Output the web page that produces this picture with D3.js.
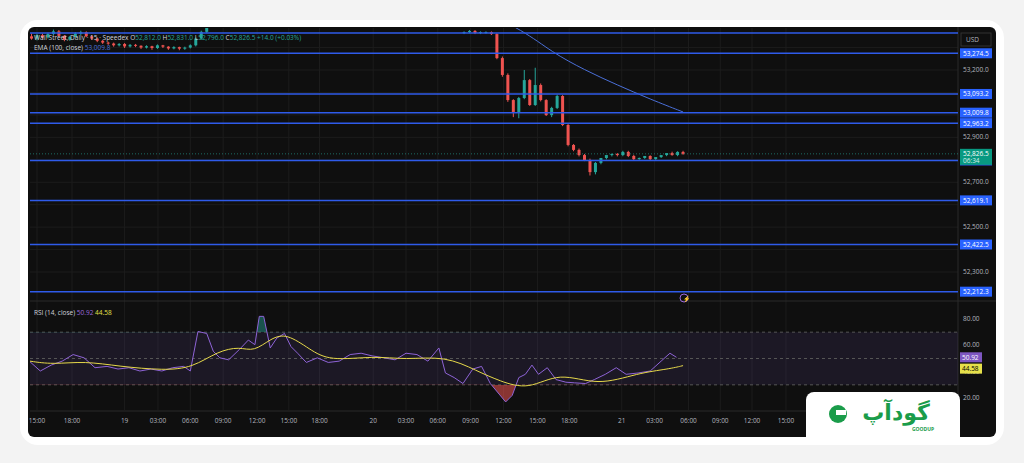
<!DOCTYPE html>
<html><head><meta charset="utf-8">
<script src="https://cdn.jsdelivr.net/npm/d3@7"></script>
<style>body{margin:0;background:#f3f3f3;font-family:"Open Sans",sans-serif}</style>
</head><body><svg id="c" width="1024" height="463"></svg>
<script>
// time unit = trading hours from 15:00 (day 18) on the chart axis
const tickLabels = ['15:00','18:00','19','03:00','06:00','09:00','12:00','15:00','18:00','20','03:00','06:00','09:00','12:00','15:00','18:00','21','03:00','06:00','09:00','12:00','15:00'];
const tickPos = [0,3.2,8,11.05,14,17,20.1,23,25.8,30.7,33.7,36.6,39.6,42.6,45.7,48.6,53.4,56.4,59.5,62.4,65.3,68.4];

const levels = [53365, 53274.5, 53093.2, 53009.8, 52963.2, 52797.0, 52619.1, 52422.5, 52212.3];
const levelLabels = ['53,274.5','53,093.2','53,009.8','52,963.2','52,797.0','52,619.1','52,422.5','52,212.3'];
const priceTicks = [53200, 52900, 52700, 52500, 52300];

const candleT = [-0.5,0,0.5,1,1.5,2,2.5,3,3.5,4,4.5,5,5.5,6,6.5,7,7.5,8,8.5,9,9.5,10,10.5,11,11.5,12,12.5,13,13.5,14,14.5,15,15.5,16,
  39,39.5,40,40.5,41,41.5,42,42.5,43,43.5,44,44.5,45,45.5,46,46.5,47,47.5,48,48.5,49,49.5,50,50.5,51,51.5,52,52.5,53,53.5,54,54.5,55,55.5,56,56.5,57,57.5,58,58.5,59];
const opens = [53350,53340,53355,53345,53360,53372,53352,53335,53348,53362,53368,53350,53340,53330,53322,53318,53310,53316,53305,53312,53308,53300,53306,53298,53310,53304,53296,53302,53295,53300,53310,53340,53370,53395,
  53365,53369,53374,53365,53369,53369,53360,53253,53178,53066,53013,53075,53155,53044,53133,53066,52999,53031,53084,52955,52866,52844,52821,52799,52745,52786,52808,52821,52826,52821,52835,52817,52803,52808,52817,52803,52812,52821,52830,52821,52835];
const closes = [53340,53355,53345,53360,53372,53352,53335,53348,53362,53368,53350,53340,53330,53322,53318,53310,53316,53305,53312,53308,53300,53306,53298,53310,53304,53296,53302,53295,53300,53310,53340,53370,53395,53410,
  53369,53374,53365,53369,53369,53360,53253,53178,53066,53013,53075,53155,53044,53133,53066,52999,53031,53084,52955,52866,52844,52821,52799,52745,52786,52808,52821,52826,52821,52835,52817,52803,52808,52817,52803,52812,52821,52830,52821,52835,52826.5];
const highs = [53362,53360,53362,53366,53380,53378,53356,53352,53368,53375,53372,53354,53344,53334,53326,53322,53320,53320,53316,53316,53310,53310,53308,53314,53312,53306,53306,53304,53304,53314,53345,53375,53400,53415,
  53372,53378,53378,53372,53372,53372,53364,53260,53185,53070,53080,53200,53160,53210,53140,53070,53036,53090,53088,52960,52870,52850,52826,52805,52790,52790,52812,52828,52830,52840,52840,52822,52810,52814,52820,52808,52816,52824,52836,52838,52840];
const lows = [53335,53332,53340,53340,53355,53348,53328,53330,53344,53356,53346,53334,53324,53316,53312,53304,53305,53298,53300,53302,53294,53296,53290,53294,53298,53290,53292,53288,53290,53296,53305,53335,53365,53390,
  53360,53364,53360,53360,53362,53356,53248,53170,53058,52990,52985,53070,53040,53040,53060,52995,52990,53026,52950,52860,52838,52815,52794,52730,52735,52780,52802,52815,52815,52816,52812,52798,52800,52804,52798,52800,52808,52816,52818,52816,52822];

const emaT = [40, 44.5, 47, 50, 53, 56, 59];
const emaV = [53480, 53374, 53280, 53200, 53133, 53070, 53013];

const rsiT = [-0.7,0.3,1.3,2.3,3.3,4.3,5.3,6.4,7.4,8.4,9.4,10.4,11.4,12.4,13.4,14.0,14.7,15.5,16.1,16.7,17.5,18.5,19.3,19.9,20.3,20.7,21.3,21.9,22.6,23.2,23.8,24.6,25.6,26.6,27.6,28.6,29.6,30.6,31.7,32.7,33.7,34.7,35.7,36.7,37.3,38.1,38.9,39.8,40.6,41.4,42.2,42.8,43.4,44.0,44.6,45.2,45.8,46.6,47.4,48.3,49.1,50.1,50.9,51.9,52.9,53.8,54.9,56.0,57.0,57.8,58.4];
const rsiV = [48,40.5,45,48,53,50.5,43,44,42,43,40.5,42,40.5,43,44,40.5,70.5,69,55.5,50.5,49,57,64,60.5,82,82,58,65.5,69,59,54,47,50.5,47,48,53,54,52,50.5,49,54,53,48,58,39,35.5,31,42,44,31,23,17,22,35.5,38,45,38,43,34,32,31.5,31,34,38,43,38,39,40.5,48,54,50.92];
const maT = [-0.65,1.4,4.4,7.5,11.6,14.2,16.5,18.5,19.8,21.4,22.8,24.9,26.7,30.8,33.6,37.3,40.2,42.2,44.9,47.7,51.2,54.9,57.7,59];
const maV = [48,45.5,48,44,41,43,55.5,59,55,65.5,69,57,48,52,49,52,40.5,33,26,40,29,39,42,44.58];
const rsiTicks = [80, 60, 40, 20];
const rsiBands = [70, 50, 30];

const svg = d3.select('#c');
const L = 30, R = 958, AX = 996;
const x = d3.scaleLinear().domain([0, 1]).range([37, 47.95]);
const y = d3.scaleLinear().domain([53200, 52300]).range([70, 272]);
const yr = d3.scaleLinear().domain([80, 20]).range([319, 398]);

svg.append('rect').attr('width', 1024).attr('height', 463).attr('fill', '#f3f3f3');
svg.append('rect').attr('x', 20).attr('y', 20).attr('width', 984).attr('height', 425).attr('rx', 18).attr('fill', '#fff');
svg.append('rect').attr('x', 28).attr('y', 27).attr('width', 968).attr('height', 410).attr('rx', 6).attr('fill', '#0f0f0f');

const defs = svg.append('defs');
defs.append('clipPath').attr('id', 'pp').append('rect').attr('x', L).attr('y', 28).attr('width', R - L).attr('height', 270);
defs.append('clipPath').attr('id', 'rp').append('rect').attr('x', L).attr('y', 303).attr('width', R - L).attr('height', 107);
defs.append('clipPath').attr('id', 'ob').append('rect').attr('x', L).attr('y', 303).attr('width', R - L).attr('height', yr(70) - 303);
defs.append('clipPath').attr('id', 'os').append('rect').attr('x', L).attr('y', yr(30)).attr('width', R - L).attr('height', 410 - yr(30));

// grid
const grid = svg.append('g').attr('stroke', '#1c1c1c');
tickPos.forEach(t => grid.append('line').attr('x1', x(t)).attr('x2', x(t)).attr('y1', 28).attr('y2', 410));
[53300,53200,53100,53000,52900,52800,52700,52600,52500,52400,52300].forEach(p => grid.append('line').attr('x1', L).attr('x2', R).attr('y1', y(p)).attr('y2', y(p)));
svg.append('line').attr('x1', L).attr('x2', AX).attr('y1', 301).attr('y2', 301).attr('stroke', '#2a2a2a');
svg.append('line').attr('x1', R).attr('x2', R).attr('y1', 27).attr('y2', 437).attr('stroke', '#2a2a2a');
svg.append('line').attr('x1', L).attr('x2', R).attr('y1', 411).attr('y2', 411).attr('stroke', '#2a2a2a');

// price pane
const pp = svg.append('g').attr('clip-path', 'url(#pp)');
const up = '#26a69a', dn = '#ef5350';
candleT.forEach((t, i) => {
  const c = closes[i] >= opens[i] ? up : dn;
  pp.append('line').attr('x1', x(t)).attr('x2', x(t)).attr('y1', y(highs[i])).attr('y2', y(lows[i])).attr('stroke', c);
  const y0 = y(Math.max(opens[i], closes[i])), y1 = y(Math.min(opens[i], closes[i]));
  pp.append('rect').attr('x', x(t) - 1.5).attr('width', 3).attr('y', y0).attr('height', Math.max(1, y1 - y0)).attr('fill', c);
});
pp.append('path').attr('d', d3.line().x((d, i) => x(emaT[i])).y(d => y(d)).curve(d3.curveBasis)(emaV))
  .attr('fill', 'none').attr('stroke', '#4a6fd8').attr('stroke-width', 1);
levels.forEach(p => svg.append('line').attr('x1', L).attr('x2', R).attr('y1', y(p)).attr('y2', y(p)).attr('stroke', '#2f5bea').attr('stroke-width', 1.5));
svg.append('line').attr('x1', L).attr('x2', R).attr('y1', y(52826.5)).attr('y2', y(52826.5)).attr('stroke', up).attr('stroke-dasharray', '1,2').attr('opacity', 0.6);

// price axis
const ax = svg.append('g').attr('font-size', 6.5).attr('fill', '#b2b5be');
ax.append('rect').attr('x', 961).attr('y', 33).attr('width', 30).attr('height', 13).attr('fill', 'none').attr('stroke', '#333');
ax.append('text').attr('x', 966).attr('y', 42).text('USD');
priceTicks.forEach(p => ax.append('text').attr('x', 963).attr('y', y(p) + 2).text(d3.format(',.1f')(p)));
levels.slice(1).forEach((p, i) => {
  ax.append('rect').attr('x', 960).attr('y', y(p) - 5).attr('width', 32).attr('height', 10).attr('fill', '#2962ff');
  ax.append('text').attr('x', 963).attr('y', y(p) + 2.5).attr('fill', '#fff').text(levelLabels[i]);
});
ax.append('rect').attr('x', 960).attr('y', y(52826.5) - 5).attr('width', 32).attr('height', 16).attr('fill', '#089981');
ax.append('text').attr('x', 963).attr('y', y(52826.5) + 2.5).attr('fill', '#fff').text('52,826.5');
ax.append('text').attr('x', 963).attr('y', y(52826.5) + 9).attr('fill', '#d8f0ea').text('06:34');

// rsi pane
const rp = svg.append('g').attr('clip-path', 'url(#rp)');
rp.append('rect').attr('x', L).attr('width', R - L).attr('y', yr(70)).attr('height', yr(30) - yr(70)).attr('fill', '#7e57c2').attr('opacity', 0.12);
rsiBands.forEach(v => rp.append('line').attr('x1', L).attr('x2', R).attr('y1', yr(v)).attr('y2', yr(v)).attr('stroke', '#555').attr('stroke-dasharray', '3,3'));
const rl = d3.line().x((d, i) => x(rsiT[i])).y(d => yr(d));
const ra = d3.area().x((d, i) => x(rsiT[i]));
rp.append('path').attr('clip-path', 'url(#ob)').attr('d', ra.y0(yr(70)).y1(d => yr(d))(rsiV)).attr('fill', '#26a69a').attr('opacity', 0.45);
rp.append('path').attr('clip-path', 'url(#os)').attr('d', ra.y0(yr(30)).y1(d => yr(d))(rsiV)).attr('fill', '#ef5350').attr('opacity', 0.55);
rp.append('path').attr('d', rl(rsiV)).attr('fill', 'none').attr('stroke', '#8e63d6').attr('stroke-width', 1);
rp.append('path').attr('d', d3.line().x((d, i) => x(maT[i])).y(d => yr(d)).curve(d3.curveBasis)(maV)).attr('fill', 'none').attr('stroke', '#e6d84a').attr('stroke-width', 1);
rsiTicks.forEach(v => ax.append('text').attr('x', 963).attr('y', yr(v) + 2).text(v.toFixed(2)));
ax.append('rect').attr('x', 960).attr('y', yr(50.92) - 5).attr('width', 22).attr('height', 10).attr('fill', '#7e57c2');
ax.append('text').attr('x', 962).attr('y', yr(50.92) + 2.5).attr('fill', '#fff').text('50.92');
ax.append('rect').attr('x', 960).attr('y', yr(44.58) - 5 + 3).attr('width', 22).attr('height', 10).attr('fill', '#e6e04a');
ax.append('text').attr('x', 962).attr('y', yr(44.58) + 5.5).attr('fill', '#000').text('44.58');
svg.append('circle').attr('cx', 684).attr('cy', 298).attr('r', 4).attr('fill', 'none').attr('stroke', '#9c6ade');
svg.append('text').attr('x', 682.5).attr('y', 300.5).attr('font-size', 6).attr('fill', '#9c6ade').text('⚡');

// time axis
svg.append('g').attr('font-size', 6.5).attr('fill', '#b2b5be').selectAll('text').data(tickLabels).join('text')
  .attr('x', (d, i) => x(tickPos[i])).attr('y', 423).attr('text-anchor', 'middle').text(d => d);

// header
const hd = svg.append('g').attr('font-size', 6.5).attr('fill', '#d1d4dc');
const h1 = hd.append('text').attr('x', 34).attr('y', 40);
h1.append('tspan').text('Wall Street, Daily · 15 · Speedex  ');
h1.append('tspan').text('O').append('tspan').attr('fill', up).text('52,812.0 ');
h1.append('tspan').text('H').append('tspan').attr('fill', up).text('52,831.0 ');
h1.append('tspan').text('L').append('tspan').attr('fill', up).text('52,796.0 ');
h1.append('tspan').text('C').append('tspan').attr('fill', up).text('52,826.5 +14.0 (+0.03%)');
const h2 = hd.append('text').attr('x', 34).attr('y', 50);
h2.append('tspan').text('EMA (100, close) ');
h2.append('tspan').attr('fill', '#4a6fd8').text('53,009.8');
const h3 = hd.append('text').attr('x', 34).attr('y', 315);
h3.append('tspan').text('RSI (14, close) ');
h3.append('tspan').attr('fill', '#9c6ade').text('50.92 ');
h3.append('tspan').attr('fill', '#e6e04a').text('44.58');

// logo
svg.append('path').attr('d', 'M806,437 V400 a8,8 0 0 1 8,-8 H952 a8,8 0 0 1 8,8 V437 Z').attr('fill', '#fff');
svg.append('circle').attr('cx', 838).attr('cy', 414).attr('r', 9).attr('fill', '#1a9c4a');
svg.append('rect').attr('x', 836).attr('y', 410).attr('width', 10).attr('height', 5).attr('fill', '#fff');
svg.append('text').attr('x', 896).attr('y', 420).attr('text-anchor', 'middle').attr('font-family', 'DejaVu Sans').attr('font-weight', 'bold')
  .attr('font-size', 22).attr('fill', '#1a9c4a').text('گودآپ');
svg.append('text').attr('x', 912).attr('y', 431).attr('font-size', 5).attr('fill', '#1a9c4a').attr('font-weight', 'bold').text('GOODUP');
</script></body></html>
